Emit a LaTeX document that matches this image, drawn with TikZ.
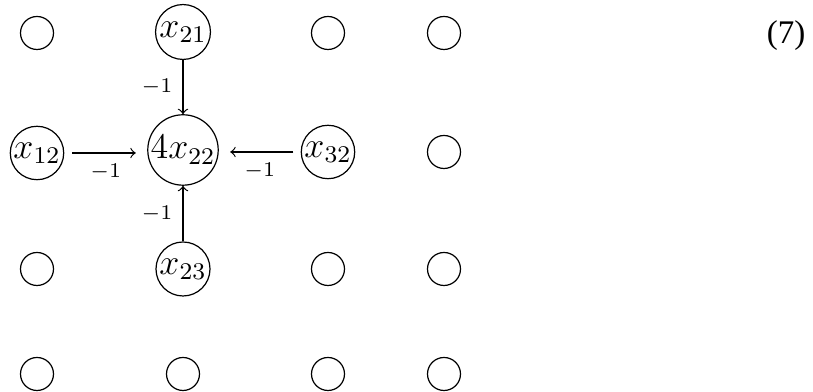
\documentclass[tikz,border=0pt]{standalone}
\usepackage{fontspec}
\newfontfamily\timesfont{Liberation Serif}
\begin{document}
\begin{tikzpicture}[x=0.3333pt,y=-0.3333pt,
  emptynode/.style={draw,circle,inner sep=0pt,minimum size=11pt},
  varnode/.style={draw,circle,inner sep=0pt,minimum size=#1,font=\fontsize{11.5}{13}\selectfont},
  varnode/.default=18pt,
  lbl/.style={font=\fontsize{7.5}{9}\selectfont},
  arr/.style={->}]
\useasboundingbox (0,0) rectangle (813,392);
% row 1
\node[emptynode] (a11) at (37,33) {};
\node[varnode=18.3pt] (x21) at (183,32) {$x_{21}$};
\node[emptynode] (a31) at (328,33) {};
\node[emptynode] (a41) at (444,33) {};
% row 2
\node[varnode=17.8pt] (x12) at (37,153) {$x_{12}$};
\node[varnode=21.8pt] (c22) at (183,150) {$4x_{22}$};
\node[varnode=17.8pt] (x32) at (328,152) {$x_{32}$};
\node[emptynode] (a42) at (444,152) {};
% row 3
\node[emptynode] (a13) at (37,269) {};
\node[varnode=18pt] (x23) at (183,269) {$x_{23}$};
\node[emptynode] (a33) at (328,269) {};
\node[emptynode] (a43) at (444,269) {};
% row 4
\node[emptynode] (a14) at (37,374) {};
\node[emptynode] (a24) at (183,374) {};
\node[emptynode] (a34) at (328,374) {};
\node[emptynode] (a44) at (444,374) {};
% equation number
\node[font=\fontspec{Liberation Serif}\fontsize{11}{13}\selectfont] (eqn) at (786,36) {(7)};
% edges
\draw[arr] (x21) -- node[lbl,left] {$-1$} (c22);
\draw[arr] (x23) -- node[lbl,left] {$-1$} (c22);
\draw[arr,shorten <=2.7pt,shorten >=3.8pt] (x12.east) -- node[lbl,below] {$-1$} (x12.east -| c22.west);
\draw[arr,shorten <=2.4pt,shorten >=3.8pt] (x32.west) -- node[lbl,below] {$-1$} (x32.west -| c22.east);
\end{tikzpicture}
\end{document}
